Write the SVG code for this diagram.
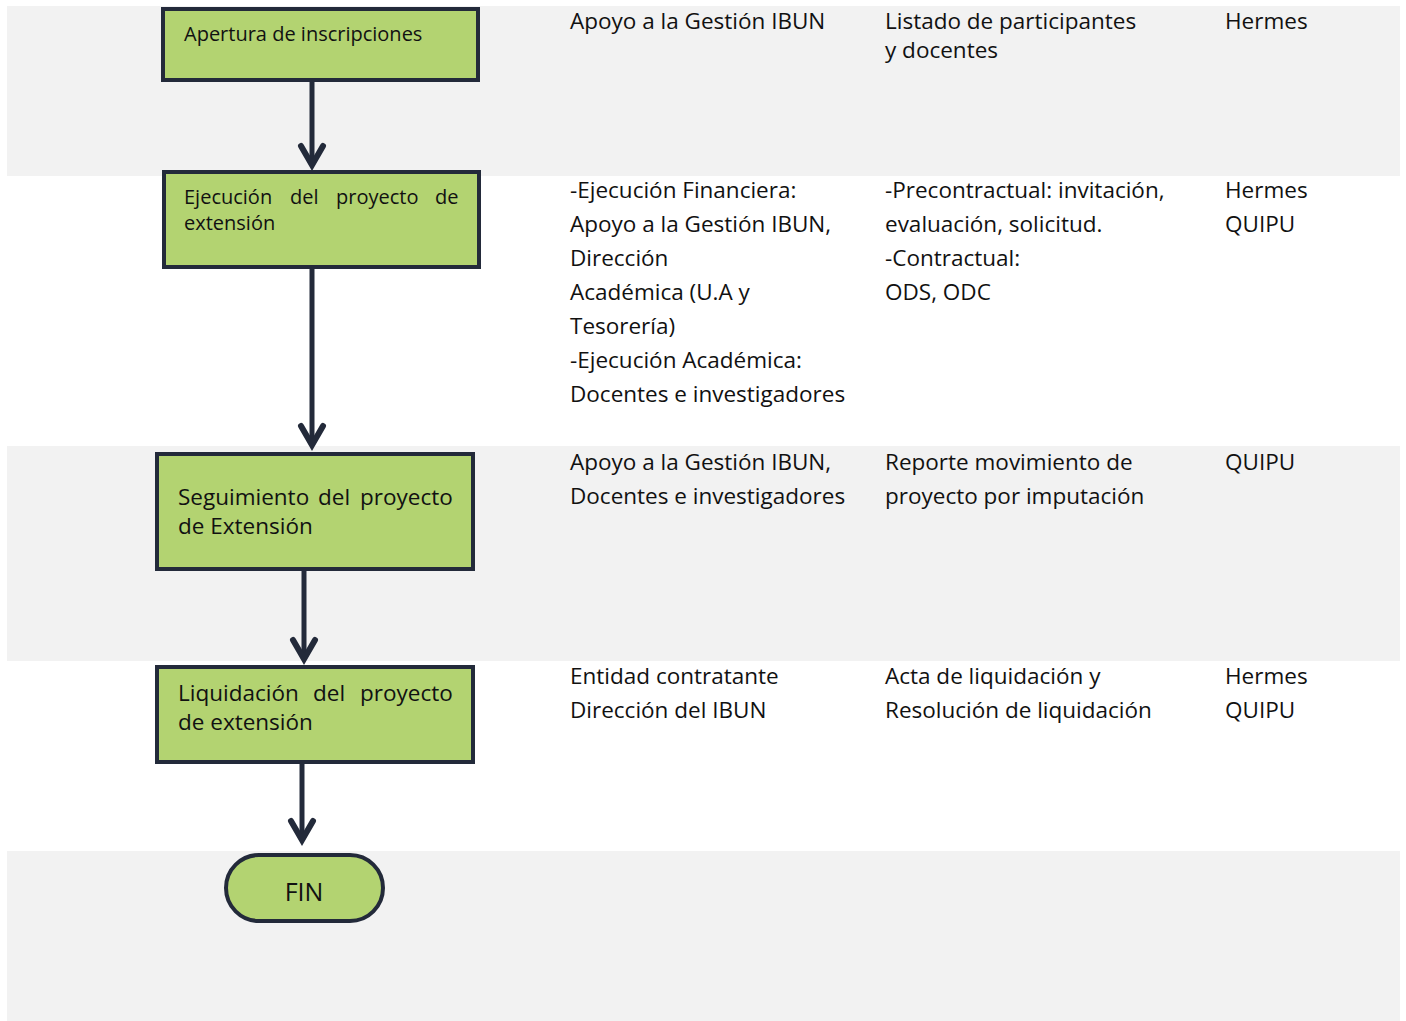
<svg xmlns="http://www.w3.org/2000/svg" width="1406" height="1021" viewBox="0 0 1406 1021">
<style>
.band{fill:#f2f2f2}
.node{fill:#b3d371;stroke:#232a3a;stroke-width:4}
.t{font-family:"Open Sans","Noto Sans","Liberation Sans",sans-serif;fill:#111;font-size:22.5px}
.n{font-family:"Open Sans","Noto Sans","Liberation Sans",sans-serif;fill:#111}
.edge{stroke:#232a3a;stroke-width:5;fill:none}
.head{stroke:#232a3a;stroke-width:6;fill:none;stroke-linecap:round;stroke-linejoin:miter}
</style>
<rect width="1406" height="1021" fill="#fff"/>
<g id="bands">
<rect class="band" x="7" y="6" width="1393" height="170"/>
<rect class="band" x="7" y="446" width="1393" height="215"/>
<rect class="band" x="7" y="851" width="1393" height="170"/>
</g>
<g id="connectors">
<path class="edge" d="M312 82V164"/><path class="head" d="M301 146L312 165L323 146"/>
<path class="edge" d="M312 269V444"/><path class="head" d="M301 426L312 445L323 426"/>
<path class="edge" d="M304 571V658"/><path class="head" d="M293 640L304 659L315 640"/>
<path class="edge" d="M302 764V839"/><path class="head" d="M291 821L302 840L313 821"/>
</g>
<g id="n1">
<rect class="node" x="163" y="9" width="315" height="71"/>
<text class="n" x="184" y="41" font-size="20">Apertura de inscripciones</text>
</g>
<g id="n2">
<rect class="node" x="164" y="172" width="315" height="95"/>
<text class="n" y="204" font-size="20"><tspan x="184">Ejecución</tspan><tspan x="290">del</tspan><tspan x="336">proyecto</tspan><tspan x="435">de</tspan></text>
<text class="n" x="184" y="230" font-size="20">extensión</text>
</g>
<g id="n3">
<rect class="node" x="157" y="454" width="316" height="115"/>
<text class="n" y="505" font-size="22.5"><tspan x="178">Seguimiento</tspan><tspan x="318">del</tspan><tspan x="360">proyecto</tspan></text>
<text class="n" x="178" y="534" font-size="22.5">de Extensión</text>
</g>
<g id="n4">
<rect class="node" x="157" y="667" width="316" height="95"/>
<text class="n" y="701" font-size="22.5"><tspan x="178">Liquidación</tspan><tspan x="313">del</tspan><tspan x="360">proyecto</tspan></text>
<text class="n" x="178" y="730" font-size="22.5">de extensión</text>
</g>
<g id="fin">
<rect class="node" x="226" y="855" width="157" height="66" rx="33"/>
<text class="n" x="304" y="901" font-size="25" text-anchor="middle">FIN</text>
</g>
<g id="columns">
<text class="t" x="570" y="29">Apoyo a la Gestión IBUN</text>
<text class="t" x="885" y="29">Listado de participantes</text>
<text class="t" x="885" y="58">y docentes</text>
<text class="t" x="1225" y="29">Hermes</text>

<text class="t" x="570" y="198">-Ejecución Financiera:</text>
<text class="t" x="570" y="232">Apoyo a la Gestión IBUN,</text>
<text class="t" x="570" y="266">Dirección</text>
<text class="t" x="570" y="300">Académica (U.A y</text>
<text class="t" x="570" y="334">Tesorería)</text>
<text class="t" x="570" y="368">-Ejecución Académica:</text>
<text class="t" x="570" y="402">Docentes e investigadores</text>
<text class="t" x="885" y="198">-Precontractual: invitación,</text>
<text class="t" x="885" y="232">evaluación, solicitud.</text>
<text class="t" x="885" y="266">-Contractual:</text>
<text class="t" x="885" y="300">ODS, ODC</text>
<text class="t" x="1225" y="198">Hermes</text>
<text class="t" x="1225" y="232">QUIPU</text>

<text class="t" x="570" y="470">Apoyo a la Gestión IBUN,</text>
<text class="t" x="570" y="504">Docentes e investigadores</text>
<text class="t" x="885" y="470">Reporte movimiento de</text>
<text class="t" x="885" y="504">proyecto por imputación</text>
<text class="t" x="1225" y="470">QUIPU</text>

<text class="t" x="570" y="684">Entidad contratante</text>
<text class="t" x="570" y="718">Dirección del IBUN</text>
<text class="t" x="885" y="684">Acta de liquidación y</text>
<text class="t" x="885" y="718">Resolución de liquidación</text>
<text class="t" x="1225" y="684">Hermes</text>
<text class="t" x="1225" y="718">QUIPU</text>
</g>
</svg>
